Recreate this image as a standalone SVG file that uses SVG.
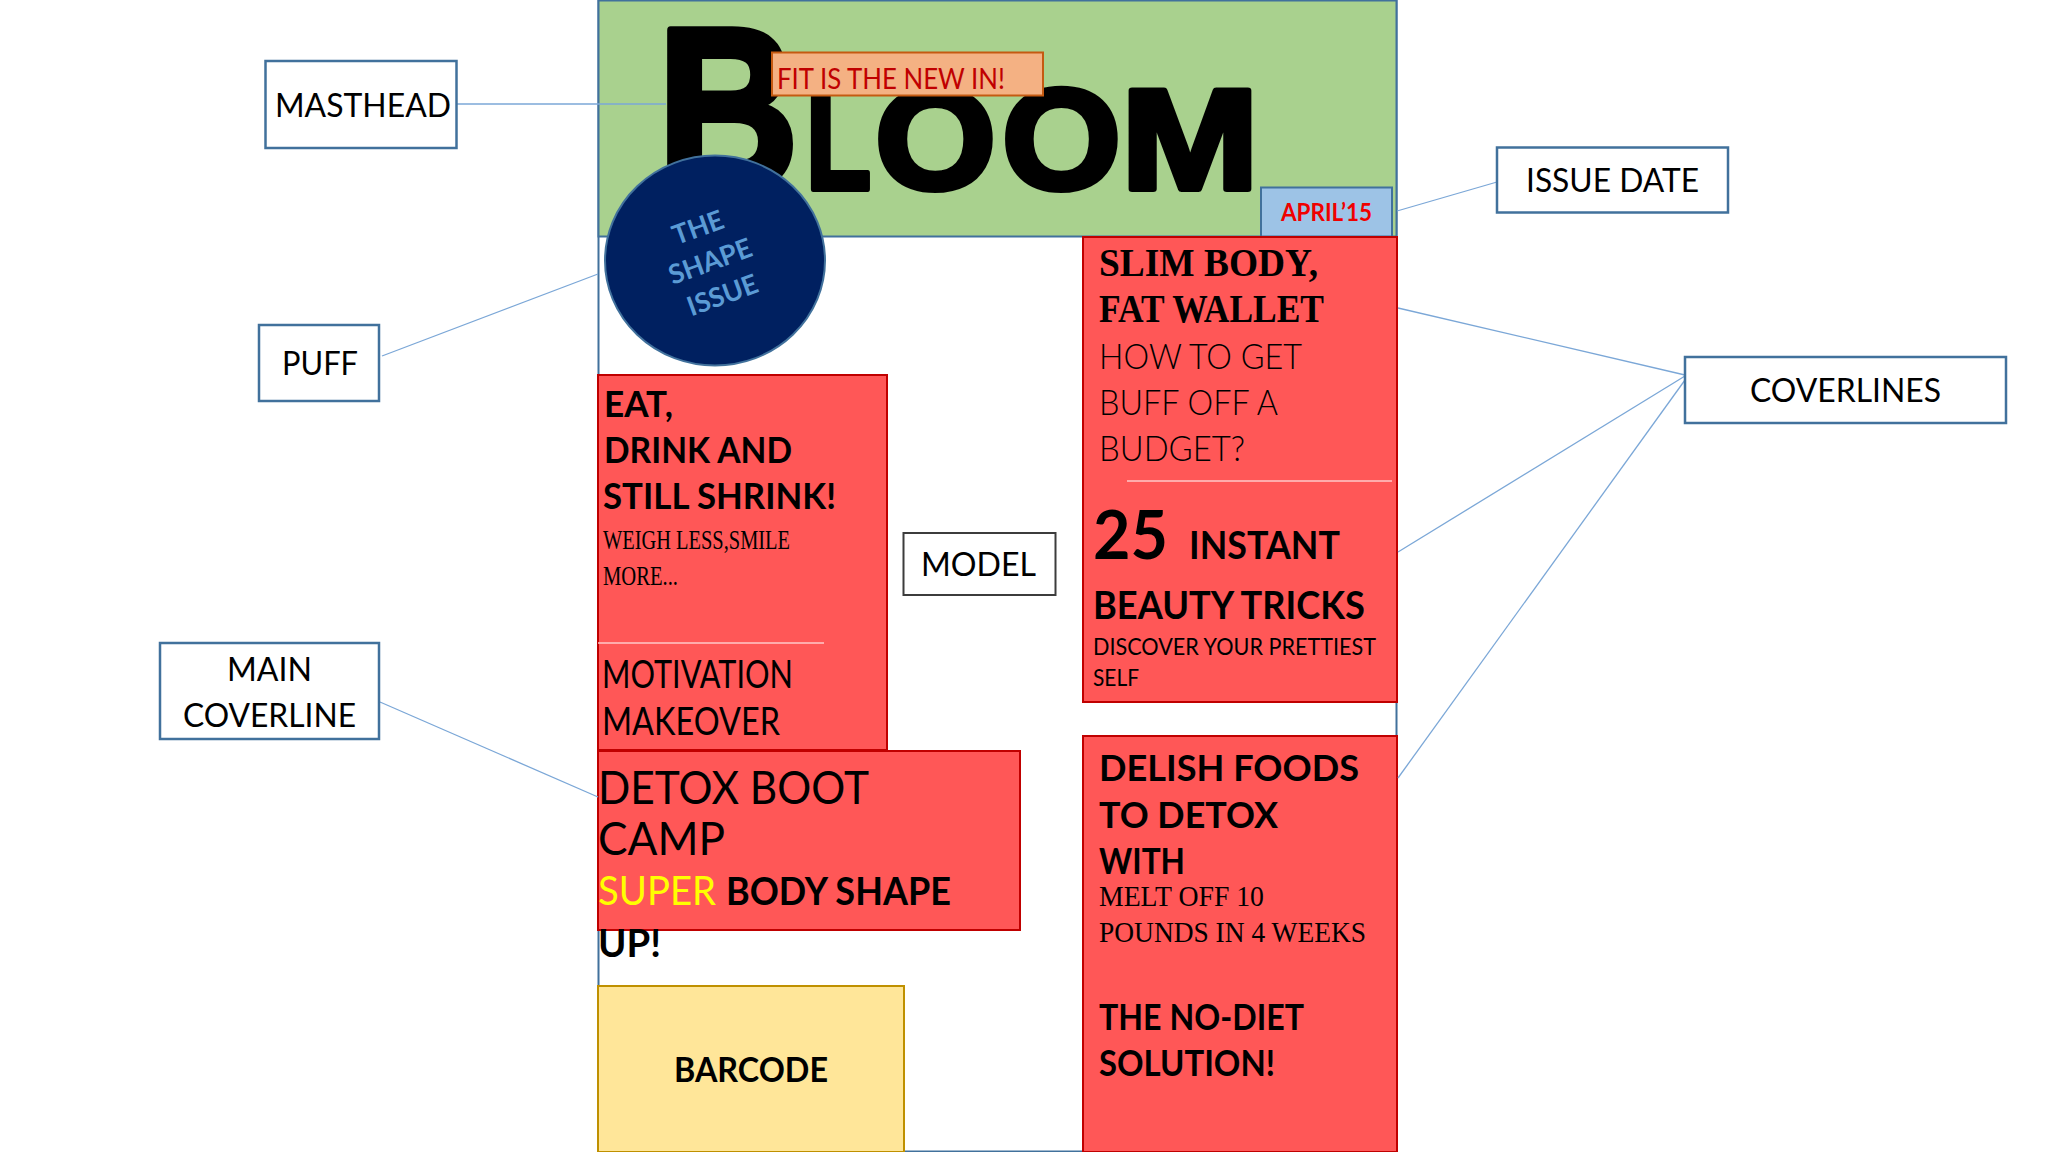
<svg xmlns="http://www.w3.org/2000/svg" width="2048" height="1152" viewBox="0 0 2048 1152">
<style>
text{font-family:Lato,"Liberation Sans",sans-serif;fill:#000}
.b{font-weight:700}
.s{font-family:"Liberation Serif",serif}
.lab{fill:#fff;stroke:#41719c;stroke-width:2.500}
.red{fill:#ff5757;stroke:#c00000;stroke-width:2}
.c{fill:none;stroke:#7ba7d7;stroke-width:1.300}
.big{font-family:"Liberation Sans",sans-serif;font-weight:700;stroke:#000;stroke-linejoin:round}
.puff{font-weight:700;fill:#5b9bd5;font-size:27px}
</style>
<g id="frame"><rect x="598.500" y="0.500" width="798" height="1151" fill="#fff" stroke="#41719c" stroke-width="2"/></g>
<g id="masthead-band"><rect x="598.500" y="0.500" width="798" height="236" fill="#a9d18e" stroke="#41719c" stroke-width="2"/>
<text class="big" x="657.500" y="189" font-size="230" stroke-width="8" textLength="141" lengthAdjust="spacingAndGlyphs">B</text>
<text class="big" x="806" y="189" font-size="143" stroke-width="6" textLength="65" lengthAdjust="spacingAndGlyphs">L</text>
<text class="big" x="875" y="189" font-size="143" stroke-width="6" textLength="121" lengthAdjust="spacingAndGlyphs">O</text>
<text class="big" x="1002" y="189" font-size="143" stroke-width="6" textLength="119" lengthAdjust="spacingAndGlyphs">O</text>
<text class="big" x="1121" y="189" font-size="143" stroke-width="6" textLength="138" lengthAdjust="spacingAndGlyphs">M</text></g>
<g id="fit"><rect x="772" y="52.500" width="271" height="43" fill="#f4b183" stroke="#c55a11" stroke-width="2"/>
<text x="777" y="89" font-size="28" style="fill:#c00000" textLength="228" lengthAdjust="spacingAndGlyphs">FIT IS THE NEW IN!</text></g>
<g id="puff"><ellipse cx="715" cy="260.500" rx="110" ry="105" fill="#002060" stroke="#41719c" stroke-width="2"/>
<g transform="rotate(-20 709 258)">
<text class="puff" x="709" y="235" text-anchor="middle" style="fill:#5b9bd5">THE</text>
<text class="puff" x="709" y="271" text-anchor="middle" style="fill:#5b9bd5">SHAPE</text>
<text class="puff" x="709" y="307" text-anchor="middle" style="fill:#5b9bd5">ISSUE</text></g></g>
<g id="issue-date-box"><rect x="1261" y="187.500" width="131" height="49" fill="#9dc3e6" stroke="#41719c" stroke-width="2"/>
<text class="b" x="1281" y="221" font-size="24" style="fill:#f00000" textLength="91" lengthAdjust="spacingAndGlyphs">APRIL’15</text></g>
<g id="coverline-right-top"><rect class="red" x="1083" y="237" width="314" height="465"/>
<text class="s b" x="1099" y="276" font-size="39" textLength="219" lengthAdjust="spacingAndGlyphs">SLIM BODY,</text>
<text class="s b" x="1099" y="322" font-size="39" textLength="225" lengthAdjust="spacingAndGlyphs">FAT WALLET</text>
<text x="1099" y="369" font-size="36" font-weight="300" textLength="203" lengthAdjust="spacingAndGlyphs">HOW TO GET</text>
<text x="1099" y="415" font-size="36" font-weight="300" textLength="179" lengthAdjust="spacingAndGlyphs">BUFF OFF A</text>
<text x="1099" y="461" font-size="36" font-weight="300" textLength="146" lengthAdjust="spacingAndGlyphs">BUDGET?</text>
<line x1="1127" y1="481" x2="1392" y2="481" stroke="#ffc8c8" stroke-width="1.500"/>
<text class="b" x="1093" y="559" font-size="66" textLength="75" lengthAdjust="spacingAndGlyphs">25</text>
<text class="b" x="1189" y="559" font-size="38" textLength="151" lengthAdjust="spacingAndGlyphs">INSTANT</text>
<text class="b" x="1093" y="619" font-size="38" textLength="272" lengthAdjust="spacingAndGlyphs">BEAUTY TRICKS</text>
<text x="1093" y="655" font-size="24" textLength="283" lengthAdjust="spacingAndGlyphs">DISCOVER YOUR PRETTIEST</text>
<text x="1093" y="686" font-size="24" textLength="46" lengthAdjust="spacingAndGlyphs">SELF</text></g>
<g id="coverline-left"><rect class="red" x="598" y="375" width="289" height="375"/>
<text class="b" x="604" y="417" font-size="36" textLength="69" lengthAdjust="spacingAndGlyphs">EAT,</text>
<text class="b" x="604" y="463" font-size="36" textLength="188" lengthAdjust="spacingAndGlyphs">DRINK AND</text>
<text class="b" x="603" y="509" font-size="36" textLength="233" lengthAdjust="spacingAndGlyphs">STILL SHRINK!</text>
<text class="s" x="603" y="549" font-size="27" textLength="187" lengthAdjust="spacingAndGlyphs">WEIGH LESS,SMILE</text>
<text class="s" x="603" y="585" font-size="27" textLength="75" lengthAdjust="spacingAndGlyphs">MORE...</text>
<line x1="598" y1="643" x2="824" y2="643" stroke="#ffc8c8" stroke-width="1.500"/>
<text x="602" y="688" font-size="38" textLength="191" lengthAdjust="spacingAndGlyphs">MOTIVATION</text>
<text x="602" y="735" font-size="38" textLength="178" lengthAdjust="spacingAndGlyphs">MAKEOVER</text></g>
<g id="main-coverline"><rect class="red" x="598" y="751" width="422" height="179"/>
<text x="598" y="804" font-size="46" textLength="271" lengthAdjust="spacingAndGlyphs">DETOX BOOT</text>
<text x="598" y="855" font-size="46" textLength="127" lengthAdjust="spacingAndGlyphs">CAMP</text>
<text x="598" y="905" font-size="40" style="fill:#ffff00" textLength="118" lengthAdjust="spacingAndGlyphs">SUPER</text>
<text class="b" x="726" y="905" font-size="38" textLength="225" lengthAdjust="spacingAndGlyphs">BODY SHAPE</text>
<text class="b" x="598" y="957" font-size="38" textLength="63" lengthAdjust="spacingAndGlyphs">UP!</text></g>
<g id="barcode"><rect x="598" y="986" width="306" height="166" fill="#ffe699" stroke="#bf9000" stroke-width="2"/>
<text class="b" x="674" y="1082" font-size="35" textLength="154" lengthAdjust="spacingAndGlyphs">BARCODE</text></g>
<g id="coverline-right-bottom"><rect class="red" x="1083" y="736" width="314" height="416"/>
<text class="b" x="1099" y="781" font-size="37" textLength="260" lengthAdjust="spacingAndGlyphs">DELISH FOODS</text>
<text class="b" x="1099" y="828" font-size="37" textLength="179" lengthAdjust="spacingAndGlyphs">TO DETOX</text>
<text class="b" x="1099" y="874" font-size="37" textLength="86" lengthAdjust="spacingAndGlyphs">WITH</text>
<text class="s" x="1099" y="906" font-size="29" textLength="165" lengthAdjust="spacingAndGlyphs">MELT OFF 10</text>
<text class="s" x="1099" y="942" font-size="29" textLength="267" lengthAdjust="spacingAndGlyphs">POUNDS IN 4 WEEKS</text>
<text class="b" x="1099" y="1030" font-size="37" textLength="205" lengthAdjust="spacingAndGlyphs">THE NO-DIET</text>
<text class="b" x="1099" y="1076" font-size="37" textLength="176" lengthAdjust="spacingAndGlyphs">SOLUTION!</text></g>
<g id="connectors">
<line class="c" x1="456" y1="104" x2="666" y2="104"/>
<line class="c" x1="1397" y1="211" x2="1497" y2="182"/>
<line class="c" x1="382" y1="356" x2="598" y2="274"/>
<line class="c" x1="380" y1="702" x2="598" y2="797"/>
<line class="c" x1="1685" y1="375" x2="1398" y2="308"/>
<line class="c" x1="1685" y1="376" x2="1398" y2="552"/>
<line class="c" x1="1685" y1="380" x2="1398" y2="778"/>
</g>
<g id="label-masthead"><rect class="lab" x="265.500" y="61" width="191" height="87"/><text x="275" y="117" font-size="33" textLength="176" lengthAdjust="spacingAndGlyphs">MASTHEAD</text></g>
<g id="label-puff"><rect class="lab" x="259" y="325" width="120" height="76"/><text x="282" y="375" font-size="33" textLength="76" lengthAdjust="spacingAndGlyphs">PUFF</text></g>
<g id="label-main"><rect class="lab" x="160" y="643" width="219" height="96"/><text x="227" y="681" font-size="33" textLength="85" lengthAdjust="spacingAndGlyphs">MAIN</text><text x="183" y="727" font-size="33" textLength="173" lengthAdjust="spacingAndGlyphs">COVERLINE</text></g>
<g id="label-model"><rect x="903.500" y="533" width="152" height="62" fill="#fff" stroke="#3c3c3c" stroke-width="2"/><text x="921" y="576" font-size="33" textLength="115" lengthAdjust="spacingAndGlyphs">MODEL</text></g>
<g id="label-issue"><rect class="lab" x="1497" y="147.500" width="231" height="65"/><text x="1526" y="192" font-size="33" textLength="173" lengthAdjust="spacingAndGlyphs">ISSUE DATE</text></g>
<g id="label-coverlines"><rect class="lab" x="1685" y="357" width="321" height="66"/><text x="1750" y="402" font-size="33" textLength="191" lengthAdjust="spacingAndGlyphs">COVERLINES</text></g>
</svg>
